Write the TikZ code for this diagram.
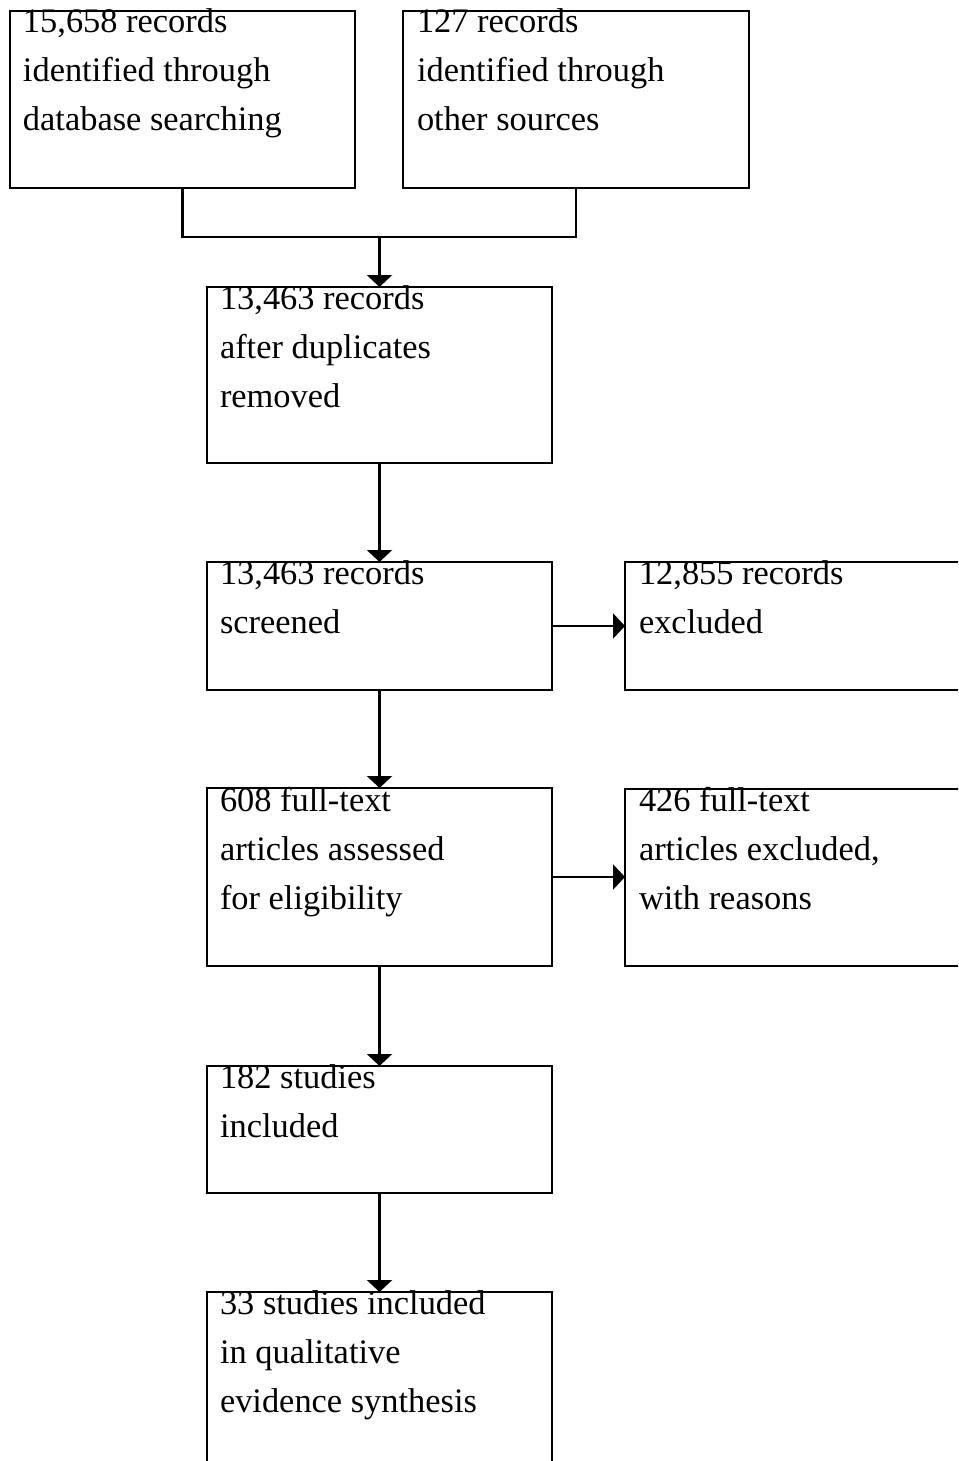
\documentclass[tikz,border=0pt]{standalone}
\usepackage{fontspec}
\setmainfont{Liberation Serif}
\usetikzlibrary{arrows.meta,calc}
\tikzset{
  box/.style={draw, line width=2.4pt, rectangle, inner sep=0pt, outer sep=0pt, anchor=north west},
  txt/.style={anchor=base west, inner sep=0pt, outer sep=0pt, align=left, font=\fontsize{34.4}{49}\selectfont},
  conn/.style={line width=2.4pt},
  arr/.style={line width=2.4pt, -{Triangle[width=25pt,length=12pt]}}
}
\begin{document}
\begin{tikzpicture}[x=1pt,y=-1pt]
\useasboundingbox (0,0) rectangle (958,1461);
\fill[white] (0,0) rectangle (958,1461);
\clip (0,0) rectangle (958,1461);
% boxes
\node[box, minimum width=345pt, minimum height=177pt] (A) at (10,11) {};
\node[box, minimum width=346pt, minimum height=177pt] (B) at (403,11) {};
\node[box, minimum width=345pt, minimum height=176pt] (C) at (207,287) {};
\node[box, minimum width=345pt, minimum height=128pt] (D) at (207,562) {};
\node[box, minimum width=345pt, minimum height=128pt] (E) at (625,562) {};
\node[box, minimum width=345pt, minimum height=178pt] (F) at (207,788) {};
\node[box, minimum width=345pt, minimum height=177pt] (G) at (625,789) {};
\node[box, minimum width=345pt, minimum height=127pt] (H) at (207,1066) {};
\node[box, minimum width=345pt, minimum height=190pt] (I) at (207,1292) {};
% texts (base anchor = baseline of last line)
\node[txt] (tA) at ($(A.north west)+(13,120)$) {15,658 records\\identified through\\database searching};
\node[txt] (tB) at ($(B.north west)+(14,120)$) {127 records\\identified through\\other sources};
\node[txt] (tC) at ($(C.north west)+(13,120)$) {13,463 records\\after duplicates\\removed};
\node[txt] (tD) at ($(D.north west)+(13,71)$) {13,463 records\\screened};
\node[txt] (tE) at ($(E.north west)+(14,71)$) {12,855 records\\excluded};
\node[txt] (tF) at ($(F.north west)+(13,121)$) {608 full-text\\articles assessed\\for eligibility};
\node[txt] (tG) at ($(G.north west)+(14,120)$) {426 full-text\\articles excluded,\\with reasons};
\node[txt] (tH) at ($(H.north west)+(13,71)$) {182 studies\\included};
\node[txt] (tI) at ($(I.north west)+(13,120)$) {33 studies included\\in qualitative\\evidence synthesis};
% connectors
\coordinate (J) at ($(C.north)+(0,-50)$);
\draw[conn] (A.south) |- (J) -| (B.south);
\draw[arr] (J) -- (C.north);
\draw[arr] (C.south) -- (D.north);
\draw[arr] (D.south) -- (F.north);
\draw[arr] (F.south) -- (H.north);
\draw[arr] (H.south) -- (I.north);
\draw[arr] (D.east) -- (D.east -| E.west);
\draw[arr] (F.east) -- (F.east -| G.west);
\end{tikzpicture}
\end{document}
